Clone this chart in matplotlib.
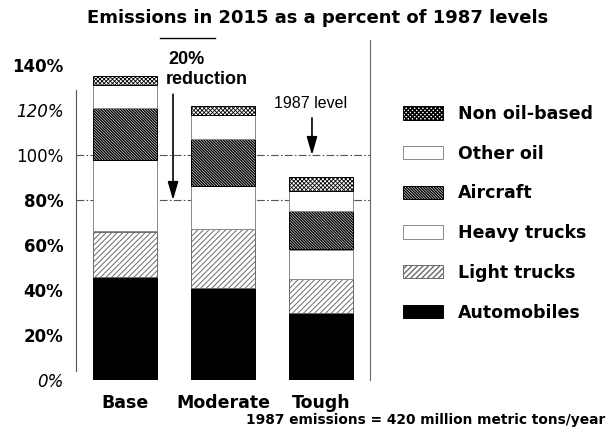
import matplotlib
matplotlib.use("Agg")
import matplotlib.pyplot as plt
from matplotlib.lines import Line2D
import numpy as np

# Scenario categories and emission components (% of 1987 level)
scenarios = ["Base", "Moderate", "Tough"]
components = ["Automobiles", "Light trucks", "Heavy trucks", "Aircraft",
              "Other oil", "Non oil-based"]
automobiles = [46, 41, 30]
light_trucks = [20, 26, 15]
heavy_trucks = [32, 19, 13]
aircraft = [23, 21, 17]
other_oil = [10, 11, 9]
non_oil_based = [4, 4, 6]
series = [automobiles, light_trucks, heavy_trucks, aircraft, other_oil, non_oil_based]

ytick_values = [0, 20, 40, 60, 80, 100, 120, 140]
ytick_labels = ["0%", "20%", "40%", "60%", "80%", "100%", "120%", "140%"]

styles = {
    "Automobiles":   dict(color="black", edgecolor="black", hatch=None, hlw=1.0),
    "Light trucks":  dict(color="white", edgecolor="#6a6a6a", hatch="/" * 6, hlw=0.7),
    "Heavy trucks":  dict(color="white", edgecolor="#8a8a8a", hatch=None, hlw=1.0),
    "Aircraft":      dict(color="white", edgecolor="black", hatch="\\" * 12, hlw=1.0),
    "Other oil":     dict(color="white", edgecolor="#8a8a8a", hatch=None, hlw=1.0),
    "Non oil-based": dict(color="white", edgecolor="black", hatch="x" * 8, hlw=0.6),
}

fig = plt.figure(figsize=(6.08, 4.38), dpi=100)
W, H = 608, 438
ax = fig.add_axes([76 / W, 1 - 380 / H, 294 / W, 340 / H])
ax.set_xlim(-0.5, 2.5)
ax.set_ylim(0, 340 / 2.25)

x = np.arange(len(scenarios))
bottom = np.zeros(len(scenarios))
handles = []
for name, vals in zip(components, series):
    st = styles[name]
    bars = ax.bar(x, vals, width=0.66, bottom=bottom, color=st["color"],
                  edgecolor=st["edgecolor"], hatch=st["hatch"], linewidth=0.7,
                  zorder=3, label=name)
    for b in bars:
        if hasattr(b, "set_hatch_linewidth"):
            b.set_hatch_linewidth(st["hlw"])
    handles.append(bars)
    bottom += np.array(vals)

# Reference levels: 1987 level (100%) and 20% reduction (80%)
for lvl in (100, 80):
    ax.axhline(lvl, color="#555555", lw=0.8, linestyle=(0, (7, 2, 1.5, 2)), zorder=1)

# Axes frame
for s in ("top", "bottom"):
    ax.spines[s].set_visible(False)
ax.spines["left"].set_bounds(4, 129)
ax.spines["left"].set_color("#555555")
ax.spines["left"].set_linewidth(0.8)
ax.spines["right"].set_color("#666666")
ax.spines["right"].set_linewidth(0.8)

ax.set_yticks(ytick_values, ytick_labels)
ax.set_yticks([40, 60, 80, 100, 120], minor=True)
ax.tick_params(axis="y", which="major", length=0, pad=9, labelsize=12)
ax.tick_params(axis="y", which="minor", length=4, width=0.8, color="#444444")
label_style = {"0%": ("italic", "normal"), "100%": ("normal", "normal"),
               "120%": ("italic", "normal")}
for t in ax.get_yticklabels():
    style, weight = label_style.get(t.get_text(), ("normal", "bold"))
    t.set_fontstyle(style)
    t.set_fontweight(weight)
    t.set_fontfamily("DejaVu Sans")

ax.set_xticks(x, scenarios)
ax.tick_params(axis="x", length=0, pad=10)
for t in ax.get_xticklabels():
    t.set_fontfamily("DejaVu Sans")
    t.set_fontweight("bold")
    t.set_fontsize(12.5)

# Annotations
arrow_kw = dict(arrowstyle="-|>,head_length=1.1,head_width=0.32",
                mutation_scale=10, lw=1.2, color="black", shrinkA=0, shrinkB=0)
ax.annotate("", xy=(0.49, 80), xytext=(0.49, 127), arrowprops=arrow_kw, zorder=4)
ax.text(0.625, 142.5, "20%", ha="center", va="center",
        fontsize=13, fontweight="bold", family="Liberation Sans", clip_on=False)
ax.text(0.83, 133.5, "reduction", ha="center", va="center",
        fontsize=13, fontweight="bold", family="Liberation Sans", clip_on=False)
ax.annotate("", xy=(1.908, 100), xytext=(1.908, 116.5), arrowprops=arrow_kw, zorder=4)
ax.text(1.89, 123, "1987 level", ha="center", va="center",
        fontsize=11.5, family="Liberation Sans")

fig.add_artist(Line2D([160 / W, 215 / W], [1 - 38 / H, 1 - 38 / H],
                      color="black", lw=1.0))

fig.text(318 / W, 1 - 18 / H, "Emissions in 2015 as a percent of 1987 levels",
         ha="center", va="center", fontsize=13, fontweight="bold",
         family="DejaVu Sans")
fig.text(605 / W, 1 - 420 / H, "1987 emissions = 420 million metric tons/year",
         ha="right", va="center", fontsize=9.9, fontweight="bold",
         family="DejaVu Sans")

fig.legend(handles[::-1], components[::-1], loc="upper left",
           bbox_to_anchor=(403 / W, 1 - 105 / H), frameon=False,
           prop=dict(family="DejaVu Sans", weight="bold", size=12.5),
           handlelength=2.3, handleheight=0.8, labelspacing=1.25,
           handletextpad=0.85, borderpad=0, borderaxespad=0)

fig.savefig("out.png", dpi=100)
